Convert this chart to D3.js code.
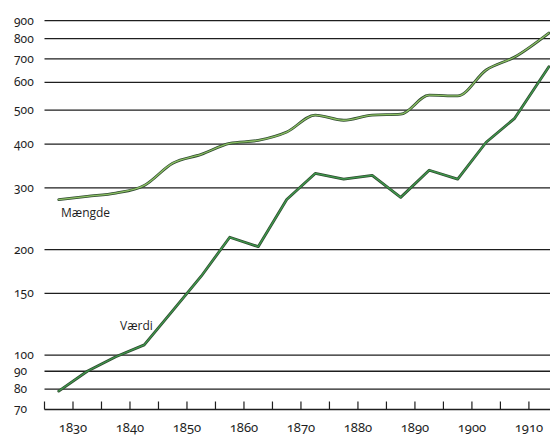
<!DOCTYPE html>
<html>
<head>
<meta charset="utf-8">
<script src="https://cdn.jsdelivr.net/npm/d3@7"></script>
<style>
  body { margin: 0; background: #fff; }
  .tick-label { font-family: "Noto Sans", sans-serif; font-size: 12px; fill: #1e1e1e; font-variant-numeric: oldstyle-nums; font-feature-settings: "onum"; }
  .x-label { font-size: 13px; }
  .series-label { font-family: "Open Sans", sans-serif; font-size: 12px; fill: #1e1e1e; }
</style>
</head>
<body>
<div class="chart"></div>
<script>
// 5-year periods (midpoints), last point at right edge
const years = [1827.5, 1832.5, 1837.5, 1842.5, 1847.5, 1852.5, 1857.5, 1862.5, 1867.5,
               1872.5, 1877.5, 1882.5, 1887.5, 1892.5, 1897.5, 1902.5, 1907.5, 1913.5];
const maengde = [278, 284, 290, 305, 353, 374, 402, 410, 433, 484, 468, 484, 487, 552, 549, 651, 709, 830];
const vaerdi  = [79, 90, 99, 107, 134, 168, 217, 204, 278, 330, 318, 326, 282, 337, 318, 405, 474, 665];
const yTicks = [70, 80, 90, 100, 150, 200, 300, 400, 500, 600, 700, 800, 900];
const xLabels = [1830, 1840, 1850, 1860, 1870, 1880, 1890, 1900, 1910];
const xMinor = d3.range(1825, 1915, 5);

const width = 550, height = 436;

const svg = d3.select(".chart").append("svg")
    .attr("width", width)
    .attr("height", height);

const xScale = d3.scaleLinear()
    .domain([1825, 1913.7])
    .range([44.5, 550]);

const yScale = d3.scaleLog()
    .domain([70, 900])
    .range([409.5, 20.7]);

// horizontal grid lines (70 is the baseline)
svg.append("g")
    .selectAll("line")
    .data(yTicks)
    .join("line")
    .attr("x1", xScale(1825))
    .attr("x2", width)
    .attr("y1", d => yScale(d))
    .attr("y2", d => yScale(d))
    .attr("stroke", "#1e1e1e")
    .attr("stroke-width", d => d === 70 ? 1.4 : 1.3);

svg.append("g")
    .selectAll("text")
    .data(yTicks)
    .join("text")
    .attr("class", "tick-label")
    .attr("x", 14)
    .attr("y", d => yScale(d))
    .attr("dy", "0.33em")
    .text(d => d);

// x axis ticks pointing up
svg.append("g")
    .selectAll("line")
    .data(xMinor)
    .join("line")
    .attr("x1", d => xScale(d))
    .attr("x2", d => xScale(d))
    .attr("y1", yScale(70))
    .attr("y2", yScale(70) - 8)
    .attr("stroke", "#1e1e1e")
    .attr("stroke-width", 1.2);

svg.append("g")
    .selectAll("text")
    .data(xLabels)
    .join("text")
    .attr("class", "tick-label x-label")
    .attr("text-anchor", "middle")
    .attr("x", d => xScale(d))
    .attr("y", 432)
    .text(d => d);

const smooth = d3.line()
    .curve(d3.curveMonotoneX)
    .x((d, i) => xScale(years[i]))
    .y(d => yScale(d));

const straight = d3.line()
    .x((d, i) => xScale(years[i]))
    .y(d => yScale(d));

function drawSeries(values, fill, line) {
    const g = svg.append("g").attr("fill", "none").attr("stroke-linejoin", "round").attr("stroke-linecap", "round");
    g.append("path")
        .attr("d", line(values))
        .attr("stroke", "#2f4a30")
        .attr("stroke-width", 2.8);
    g.append("path")
        .attr("d", line(values))
        .attr("stroke", fill)
        .attr("stroke-width", 1.3);
}

drawSeries(maengde, "#8cc063", smooth);
drawSeries(vaerdi, "#3f9a4c", straight);

svg.append("text")
    .attr("class", "series-label")
    .attr("x", 61)
    .attr("y", 217)
    .text("Mængde");

svg.append("text")
    .attr("class", "series-label")
    .attr("x", 120)
    .attr("y", 330)
    .text("Værdi");
</script>
</body>
</html>
